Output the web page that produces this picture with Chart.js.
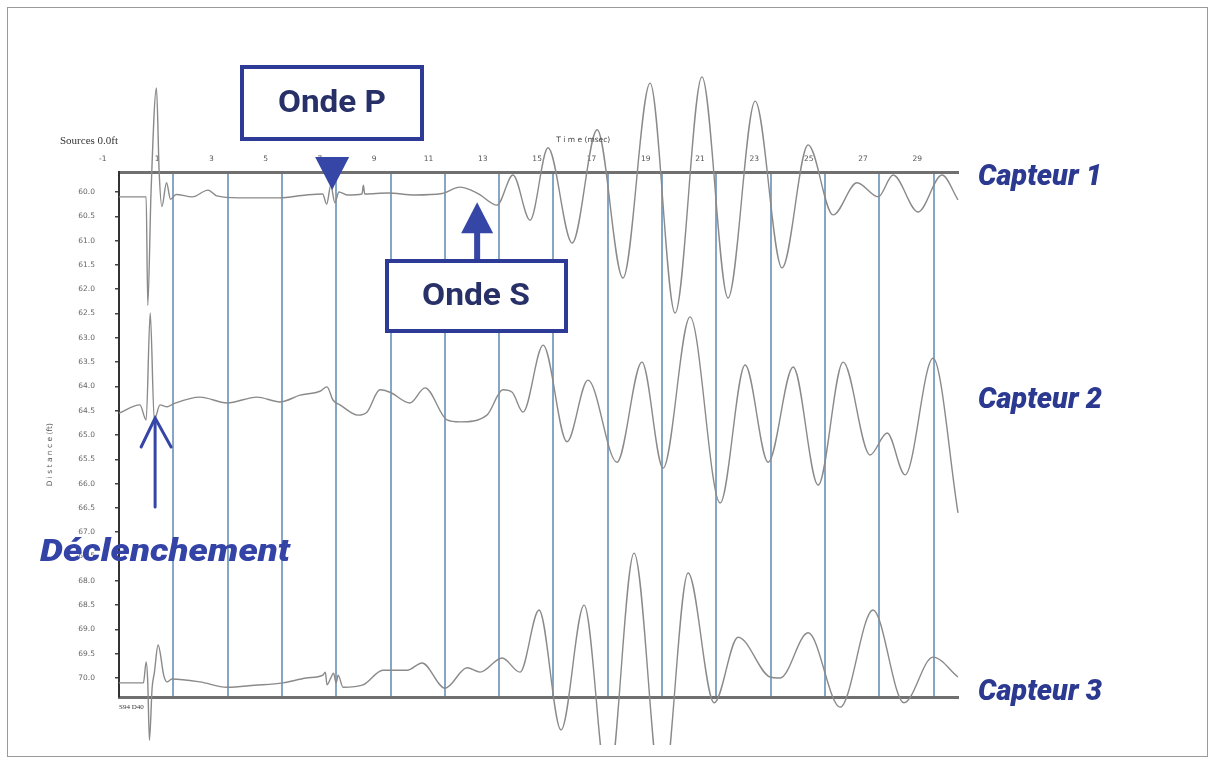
<!DOCTYPE html>
<html><head><meta charset="utf-8">
<script src="https://cdn.jsdelivr.net/npm/chart.js@4/dist/chart.umd.min.js"></script>
<style>html,body{margin:0;padding:0;background:#fff}#wrap{width:1215px;height:763px;position:relative}</style>
</head><body><div id="wrap"><canvas id="c"></canvas></div>
<script>
// Time axis tick labels (msec)
const timeTicks = [-1, 1, 3, 5, 7, 9, 11, 13, 15, 17, 19, 21, 23, 25, 27, 29];
// Vertical marker lines (msec)
const markerTimes = [1.6, 3.6, 5.6, 7.6, 9.6, 11.6, 13.6, 15.6, 17.6, 19.6, 21.6, 23.6, 25.6, 27.6, 29.6];
// Distance axis ticks (ft)
const distanceTicks = [60.0, 60.5, 61.0, 61.5, 62.0, 62.5, 63.0, 63.5, 64.0, 64.5, 65.0, 65.5, 66.0, 66.5, 67.0, 67.5, 68.0, 68.5, 69.0, 69.5, 70.0];

// Capteur 1
const sensor1Times = [-0.40, 0.55, 0.60, 0.66, 0.78, 0.98, 1.08, 1.18, 1.35, 1.50, 1.70, 2.30, 2.88, 3.20, 4.00, 5.50, 6.50, 7.10, 7.25, 7.40, 7.55, 7.70, 8.00, 8.55, 8.60, 8.65, 9.50, 10.50, 11.50, 12.16, 12.60, 12.90, 13.52, 14.11, 14.74, 15.40, 16.29, 17.21, 18.16, 19.16, 20.08, 21.07, 22.03, 23.03, 24.02, 24.98, 25.90, 26.78, 27.56, 28.11, 29.03, 29.91, 30.50];
const sensor1Values = [60.10, 60.10, 60.10, 62.33, 60.00, 57.86, 59.60, 60.30, 59.81, 60.15, 60.05, 60.10, 59.96, 60.08, 60.12, 60.12, 60.06, 60.04, 60.25, 59.86, 60.22, 60.00, 60.06, 60.04, 59.86, 60.04, 60.02, 60.06, 60.03, 59.90, 59.97, 60.06, 60.27, 59.65, 60.58, 59.09, 61.05, 58.72, 61.77, 57.76, 62.49, 57.63, 62.18, 58.13, 61.56, 59.03, 60.47, 59.81, 60.10, 59.65, 60.41, 59.65, 60.16];

// Capteur 2
const sensor2Times = [-0.40, 0.37, 0.60, 0.75, 0.90, 1.11, 1.37, 1.60, 2.58, 3.58, 4.68, 5.53, 6.27, 7.00, 7.26, 7.48, 7.74, 8.40, 8.73, 9.21, 9.58, 10.32, 10.87, 11.68, 12.16, 13.15, 13.74, 14.08, 14.48, 15.22, 16.10, 16.87, 17.94, 18.86, 19.64, 20.63, 21.74, 22.66, 23.51, 24.43, 25.35, 26.27, 27.26, 27.89, 28.55, 29.58, 30.50];
const sensor2Values = [64.55, 64.38, 64.69, 62.49, 64.69, 64.38, 64.42, 64.36, 64.22, 64.34, 64.22, 64.32, 64.18, 64.10, 64.01, 64.28, 64.38, 64.59, 64.53, 64.07, 64.12, 64.34, 64.03, 64.69, 64.73, 64.59, 64.07, 64.12, 64.53, 63.15, 65.14, 63.87, 65.56, 63.50, 65.68, 62.57, 66.40, 63.56, 65.56, 63.60, 66.03, 63.50, 65.41, 64.96, 65.82, 63.42, 66.60];

// Capteur 3
const sensor3Times = [-0.40, 0.50, 0.60, 0.66, 0.72, 0.82, 0.90, 1.04, 1.25, 1.37, 1.55, 2.58, 3.58, 4.60, 5.64, 6.50, 7.11, 7.20, 7.26, 7.40, 7.50, 7.60, 7.67, 7.85, 8.59, 9.32, 10.21, 10.76, 11.61, 12.42, 12.90, 13.71, 14.37, 15.07, 15.88, 16.73, 17.61, 18.57, 19.60, 20.56, 21.52, 22.40, 23.58, 23.95, 24.98, 26.16, 27.37, 28.51, 29.58, 30.50];
const sensor3Values = [70.10, 70.10, 69.67, 70.10, 71.28, 70.20, 69.90, 69.32, 69.95, 70.08, 70.02, 70.08, 70.19, 70.15, 70.10, 70.00, 69.94, 69.88, 70.14, 70.00, 69.90, 70.10, 69.94, 70.19, 70.14, 69.84, 69.84, 69.69, 70.21, 69.79, 69.88, 69.59, 69.88, 68.60, 71.07, 68.50, 72.30, 67.43, 72.51, 67.84, 70.51, 69.16, 69.98, 70.00, 69.07, 70.60, 68.60, 70.51, 69.57, 69.98];

const toPoints = (ts, vs) => ts.map((t, i) => ({x: t, y: vs[i]}));

const traceStyle = {
  borderColor: '#8a8a8a', borderWidth: 1.4, pointRadius: 0,
  cubicInterpolationMode: 'monotone', fill: false
};

function fitText(ctx, text, left, baseline, width, font, color) {
  ctx.save();
  ctx.font = font; ctx.fillStyle = color; ctx.textBaseline = 'alphabetic'; ctx.textAlign = 'left';
  const w = ctx.measureText(text).width;
  ctx.translate(left, baseline); ctx.scale(width / w, 1);
  ctx.fillText(text, 0, 0);
  ctx.restore();
}

const annotationPlugin = {
  id: 'annotations',
  afterDraw(chart) {
    const ctx = chart.ctx;
    const xs = chart.scales.x, ys = chart.scales.y;
    const navy = '#2e3b96', arrowBlue = '#3546a6';
    ctx.save();
    // outer frame
    ctx.strokeStyle = '#9a9a9a'; ctx.lineWidth = 1;
    ctx.strokeRect(7.5, 7.5, 1200, 749);

    // small texts
    ctx.fillStyle = '#333'; ctx.font = '11px "Liberation Serif"'; ctx.textAlign = 'left'; ctx.textBaseline = 'alphabetic';
    ctx.fillText('Sources 0.0ft', 60, 144);
    ctx.font = '7px "Liberation Serif"';
    ctx.fillText('S94 D40', 119, 709);
    ctx.fillStyle = '#444'; ctx.font = '7.5px "DejaVu Sans"'; ctx.textAlign = 'center';
    ctx.fillText('T i m e (msec)', xs.getPixelForValue(16.7), 142);

    // Onde P box + arrow
    ctx.fillStyle = '#fff'; ctx.strokeStyle = navy; ctx.lineWidth = 4;
    ctx.fillRect(242, 67, 180, 72); ctx.strokeRect(242, 67, 180, 72);
    fitText(ctx, 'Onde P', 278, 112, 108, 'bold 32px Roboto', '#283068');
    let tx = xs.getPixelForValue(7.45), ty = ys.getPixelForValue(59.96);
    ctx.fillStyle = arrowBlue;
    ctx.beginPath(); ctx.moveTo(tx, ty); ctx.lineTo(tx - 17, ty - 33); ctx.lineTo(tx + 17, ty - 33); ctx.closePath(); ctx.fill();

    // Onde S box + arrow
    ctx.fillStyle = '#fff';
    ctx.fillRect(387, 261, 179, 70); ctx.strokeRect(387, 261, 179, 70);
    fitText(ctx, 'Onde S', 422, 305, 108, 'bold 32px Roboto', '#283068');
    tx = xs.getPixelForValue(12.79); ty = ys.getPixelForValue(60.21);
    ctx.fillStyle = arrowBlue;
    ctx.beginPath(); ctx.moveTo(tx, ty); ctx.lineTo(tx - 16, ty + 31); ctx.lineTo(tx + 16, ty + 31); ctx.closePath(); ctx.fill();
    ctx.fillRect(tx - 3, ty + 29, 6, 259 - (ty + 29));

    // Déclenchement arrow
    tx = xs.getPixelForValue(0.93); ty = ys.getPixelForValue(64.65);
    ctx.strokeStyle = arrowBlue; ctx.lineWidth = 3; ctx.lineCap = 'round';
    ctx.beginPath(); ctx.moveTo(tx, ty + 2); ctx.lineTo(tx, 507); ctx.stroke();
    ctx.beginPath(); ctx.moveTo(tx - 14, ty + 29); ctx.lineTo(tx, ty); ctx.lineTo(tx + 16, ty + 29); ctx.stroke();
    fitText(ctx, 'Déclenchement', 40, 561, 250, 'italic 900 31px Roboto', '#3343a6');

    // sensor labels
    fitText(ctx, 'Capteur 1', 978, 185, 124, 'italic 900 30px Roboto', '#2b3990');
    fitText(ctx, 'Capteur 2', 978, 408, 124, 'italic 900 30px Roboto', '#2b3990');
    fitText(ctx, 'Capteur 3', 978, 700, 124, 'italic 900 30px Roboto', '#2b3990');
    ctx.restore();
  }
};

const pad = '\u00a0'.repeat(17);

new Chart(document.getElementById('c'), {
  type: 'line',
  data: {
    datasets: [
      Object.assign({label: 'Capteur 1', data: toPoints(sensor1Times, sensor1Values), clip: false}, traceStyle),
      Object.assign({label: 'Capteur 2', data: toPoints(sensor2Times, sensor2Values), clip: false}, traceStyle),
      Object.assign({label: 'Capteur 3', data: toPoints(sensor3Times, sensor3Values), clip: {left: false, top: false, right: false, bottom: 48}}, traceStyle)
    ]
  },
  options: {
    responsive: true, maintainAspectRatio: false, animation: false,
    layout: {autoPadding: false, padding: {left: 40, right: 257, top: 142, bottom: 56}},
    plugins: {legend: {display: false}, tooltip: {enabled: false}},
    scales: {
      x: {
        type: 'linear', position: 'top', min: -0.4, max: 30.5,
        afterBuildTicks: s => { s.ticks = timeTicks.map(v => ({value: v})); },
        afterFit: s => { s.height = 30; },
        grid: {display: false, drawTicks: false, tickLength: 0},
        border: {display: true, color: '#707070', width: 3},
        ticks: {autoSkip: false, maxRotation: 0, padding: 8, font: {family: 'DejaVu Sans', size: 7.5}, color: '#555', callback: v => String(v)}
      },
      x2: {
        type: 'linear', position: 'bottom', min: -0.4, max: 30.5,
        afterBuildTicks: s => { s.ticks = markerTimes.map(v => ({value: v})); },
        afterFit: s => { s.height = 10; },
        grid: {display: true, color: '#86a6c6', lineWidth: 2, drawTicks: false, tickLength: 0},
        border: {display: true, color: '#707070', width: 3},
        ticks: {display: false}
      },
      y: {
        type: 'linear', position: 'left', reverse: true, min: 59.588, max: 70.391,
        afterBuildTicks: s => { s.ticks = distanceTicks.map(v => ({value: v})); },
        afterFit: s => { s.width = 79; },
        grid: {display: true, drawOnChartArea: false, drawTicks: true, tickLength: 4, color: '#444', lineWidth: 1.5},
        border: {display: true, color: '#333', width: 2},
        ticks: {autoSkip: false, padding: 20, font: {family: 'DejaVu Sans', size: 7.5}, color: '#666', callback: v => Number(v).toFixed(1)},
        title: {display: true, text: 'D i s t a n c e (ft)' + pad, padding: {top: 6, bottom: 0}, font: {family: 'DejaVu Sans', size: 7.5}, color: '#555'}
      }
    }
  },
  plugins: [annotationPlugin]
});
</script>
</body></html>
